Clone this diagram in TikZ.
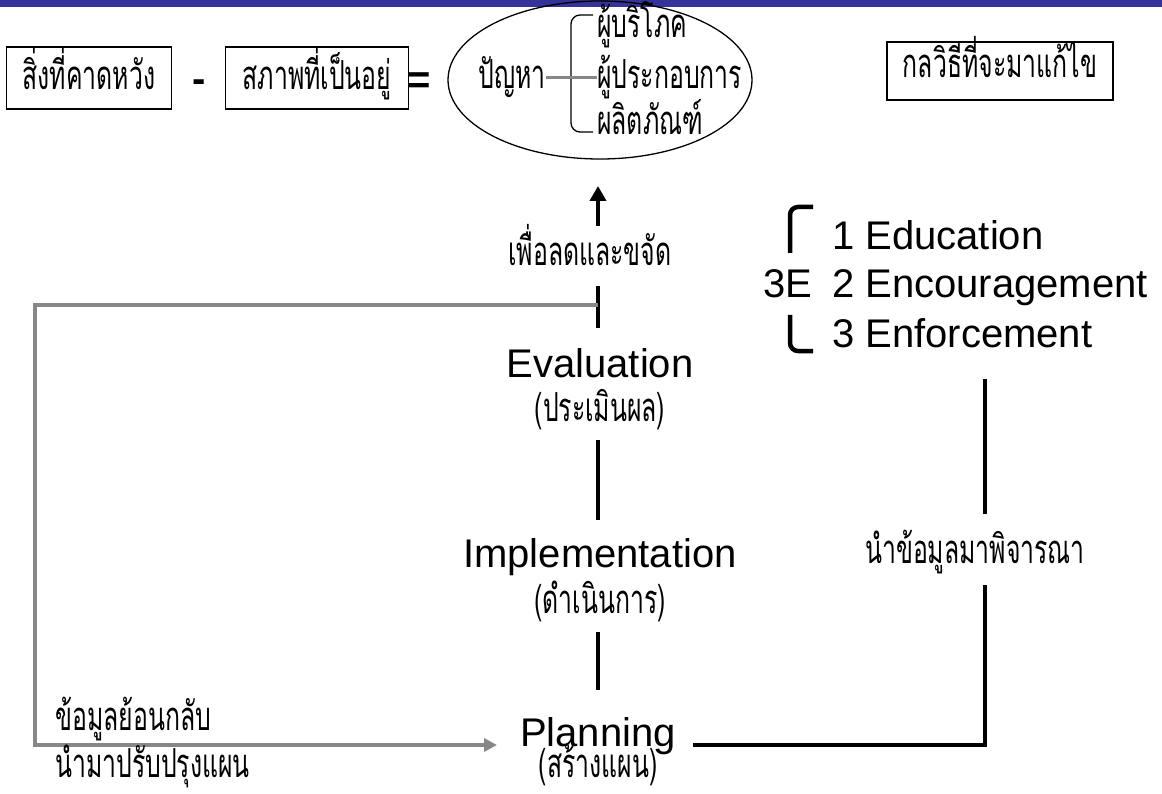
\documentclass[tikz,border=0pt]{standalone}
\usepackage{fontspec}
\setmainfont{Liberation Sans}
\newfontfamily\thai[Script=Thai,FakeStretch=0.62]{Loma}
\usetikzlibrary{shapes.geometric,arrows.meta}
\definecolor{barblue}{HTML}{333399}
\definecolor{fbgray}{HTML}{878787}
\begin{document}
\begin{tikzpicture}[x=1pt,y=-1pt,
  th/.style={font=\thai\fontsize{40}{42}\selectfont, inner sep=0pt},
  en/.style={font=\fontsize{40}{44}\selectfont, inner sep=0pt},
  tbox/.style={draw, line width=1.6pt, th, text height=30pt, text depth=6pt, minimum height=62pt},
  blk/.style={line width=4.5pt},
  gry/.style={draw=fbgray, line width=4.5pt, line join=miter},
]
\useasboundingbox (0,0) rectangle (1162,794);
\fill[barblue] (0,0) rectangle (1162,7);

% top row
\node[tbox, minimum width=165pt] (b1) at (89,78) {สิ่งที่คาดหวัง};
\node[en, font=\bfseries\fontsize{40}{44}\selectfont, anchor=base] (minus) at (199,93) {-};
\node[tbox, minimum width=183pt] (b2) at (317,78) {สภาพที่เป็นอยู่};
\node[en, font=\bfseries\fontsize{40}{44}\selectfont, anchor=base] (eq) at (419,94) {=};
\node[ellipse, draw, line width=1.3pt, minimum width=304pt, minimum height=158pt, inner sep=0pt] (ell) at (600,80) {};
\node[th, anchor=base] (pj) at (512,89) {ปัญหา};
\node[th, anchor=base west] (c1) at (597,38) {ผู้บริโภค};
\node[th, anchor=base west] (c2) at (597,89) {ผู้ประกอบการ};
\node[th, anchor=base west] (c3) at (597,135) {ผลิตภัณฑ์};
\draw[line width=1.3pt, rounded corners=9pt] (593,15) coordinate (bt) -- (571,15) -- (571,132) -- (593,132) coordinate (bb);
\draw[draw=fbgray, line width=3.5pt] (pj.east) -- (c2.west |- pj.east);
\node[draw, line width=1.6pt, th, text height=22pt, text depth=8pt, minimum height=58pt, minimum width=226pt] (b3) at (1000,71) {กลวิธีที่จะมาแก้ไข};

% central column
\coordinate (a0) at (598,226);
\coordinate (a1) at (598,186);
\draw[blk, -{Triangle[length=15pt,width=16pt]}] (a0) -- (a1);
\node[th, anchor=base] (t1) at (590,266) {เพื่อลดและขจัด};
\coordinate (s1a) at (598,286); \coordinate (s1b) at (598,328);
\draw[blk] (s1a) -- (s1b);
\node[en, anchor=base] (ev) at (600,377) {Evaluation};
\node[th, anchor=base] (evt) at (600,421) {(ประเมินผล)};
\coordinate (s2a) at (598,440); \coordinate (s2b) at (598,520);
\draw[blk] (s2a) -- (s2b);
\node[en, anchor=base] (im) at (600,567) {Implementation};
\node[th, anchor=base] (imt) at (600,613) {(ดำเนินการ)};
\coordinate (s3a) at (598,632); \coordinate (s3b) at (598,690);
\draw[blk] (s3a) -- (s3b);
\node[en, anchor=base] (pl) at (598,746) {Planning};
\node[th, anchor=base] (plt) at (598,777) {(สร้างแผน)};

% feedback loop
\coordinate (g0) at (598,305);
\coordinate (g1) at (35,305);
\coordinate (g2) at (35,745);
\coordinate (g3) at (497,745);
\draw[gry, -{Triangle[length=13pt,width=13pt]}] (g0) -- (g1) -- (g2) -- (g3);
\node[th, anchor=base west] (fb1) at (55,730) {ข้อมูลย้อนกลับ};
\node[th, anchor=base west] (fb2) at (55,777) {นำมาปรับปรุงแผน};

% right side
\node[en, anchor=base] (e3) at (788,298) {3E};
\draw[line width=4.5pt, rounded corners=8pt] (813,207) coordinate (k1) -- (790,207) -- (790,253) coordinate (k2);
\draw[line width=4.5pt, rounded corners=8pt] (790,315) coordinate (k3) -- (790,351) -- (813,351) coordinate (k4);
\node[en, anchor=base west] (l1) at (832,250) {1 Education};
\node[en, anchor=base west] (l2) at (832,298) {2 Encouragement};
\node[en, anchor=base west] (l3) at (832,347) {3 Enforcement};
\coordinate (r0) at (985,379); \coordinate (r1) at (985,514);
\draw[blk] (r0) -- (r1);
\node[th, anchor=base] (rt) at (975,563) {นำข้อมูลมาพิจารณา};
\coordinate (r2) at (985,585); \coordinate (r3) at (985,745); \coordinate (r4) at (693,745);
\draw[blk, line join=miter] (r2) -- (r3) -- (r4);
\end{tikzpicture}
\end{document}
